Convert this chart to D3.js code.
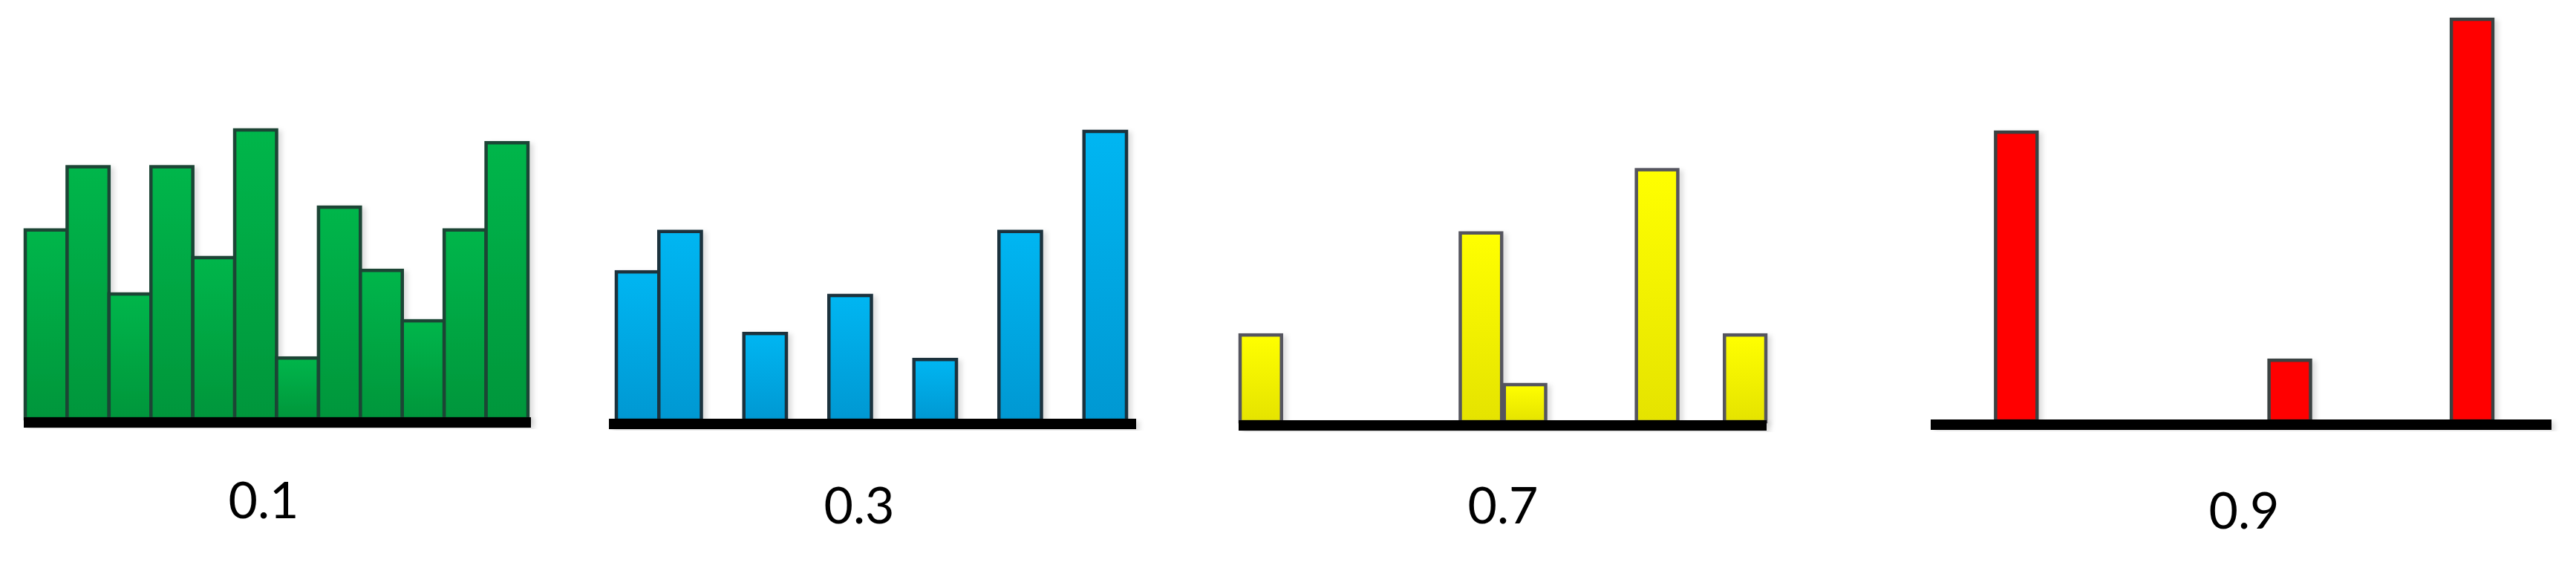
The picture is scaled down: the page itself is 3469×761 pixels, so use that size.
<!DOCTYPE html>
<html>
<head>
<meta charset="utf-8">
<script src="https://cdn.jsdelivr.net/npm/d3@7"></script>
<style>
  html, body { margin: 0; padding: 0; background: #ffffff; }
  svg { display: block; }
</style>
</head>
<body>
<div id="chart"></div>
<script>

// 12 bins per histogram, heights on a 0-100 scale
const bins = d3.range(12);
const panelLabels = ["0.1", "0.3", "0.7", "0.9"];

const greenValues  = [46.8, 62.6, 30.8, 62.6, 39.9, 71.8, 14.8, 52.5, 36.7, 24.1, 46.8, 68.6];
const blueValues   = [36.7, 46.8, 0, 21.3, 0, 30.8, 0, 14.8, 0, 46.8, 0, 71.8];
const yellowValues = [21.3, 0, 0, 0, 0, 46.8, 8.9, 0, 0, 62.6, 0, 21.3];
const redValues    = [0, 71.8, 0, 0, 0, 0, 0, 14.8, 0, 0, 0, 100];

const yMax = 100;

// layout + look of each small histogram
const panels = [
    { values: greenValues,  label: panelLabels[0], x0: 34,   x1: 711,  pad: 0,    lineX0: 32,   lineX1: 715,  base: 562,
      labelX: 355,  labelY: 698, top: "#00b64b", bottom: "#00963b", stroke: "#1b4434", id: "g" },
    { values: blueValues,   label: panelLabels[1], x0: 830,  x1: 1517, pad: 0,    lineX0: 820,  lineX1: 1530, base: 564,
      labelX: 1157, labelY: 705, top: "#00b6f2", bottom: "#0098d2", stroke: "#1a303c", id: "b" },
    { values: yellowValues, label: panelLabels[2], x0: 1670, x1: 2378, pad: 0.06, lineX0: 1668, lineX1: 2379, base: 566,
      labelX: 2024, labelY: 705, top: "#ffff00", bottom: "#e5e300", stroke: "#55555e", id: "y" },
    { values: redValues,    label: panelLabels[3], x0: 2626, x1: 3357, pad: 0.09, lineX0: 2600, lineX1: 3436, base: 565,
      labelX: 3022, labelY: 712, top: "#ff0000", bottom: "#ff0000", stroke: "#3a4242", id: "r" }
];

const width = 3469, height = 761;

const svg = d3.select("#chart").append("svg")
    .attr("width", width)
    .attr("height", height);

const defs = svg.append("defs");

// soft shadow to the right of the bars
const shadow = defs.append("filter")
    .attr("id", "shadow")
    .attr("x", "-20%").attr("y", "-5%")
    .attr("width", "150%").attr("height", "115%");
shadow.append("feDropShadow")
    .attr("dx", 5).attr("dy", 3)
    .attr("stdDeviation", 3)
    .attr("flood-color", "#000")
    .attr("flood-opacity", 0.13);

panels.forEach(p => {
    const grad = defs.append("linearGradient")
        .attr("id", "grad-" + p.id)
        .attr("x1", 0).attr("y1", 0).attr("x2", 0).attr("y2", 1);
    grad.append("stop").attr("offset", "0%").attr("stop-color", p.top);
    grad.append("stop").attr("offset", "100%").attr("stop-color", p.bottom);
});

panels.forEach(p => {
    let x = d3.scaleBand()
        .domain(bins)
        .range([p.x0, p.x1])
        .paddingInner(p.pad)
        .paddingOuter(0);

    let y = d3.scaleLinear()
        .domain([0, yMax])
        .range([p.base, p.base - 539]);

    let g = svg.append("g").attr("class", "panel");

    g.append("g")
        .attr("filter", "url(#shadow)")
        .selectAll("rect")
        .data(bins.filter(i => p.values[i] > 0))
        .join("rect")
        .attr("x", i => x(i))
        .attr("y", i => y(p.values[i]))
        .attr("width", x.bandwidth())
        .attr("height", i => y(0) - y(p.values[i]) + 2)
        .attr("fill", "url(#grad-" + p.id + ")")
        .attr("stroke", p.stroke)
        .attr("stroke-width", 4.5);

    // thick base line
    g.append("rect")
        .attr("x", p.lineX0)
        .attr("y", p.base)
        .attr("width", p.lineX1 - p.lineX0)
        .attr("height", 14)
        .attr("fill", "#000")
        .attr("filter", "url(#shadow)");

    g.append("text")
        .attr("x", p.labelX)
        .attr("y", p.labelY)
        .attr("text-anchor", "middle")
        .style("font-family", "Lato, 'Open Sans', sans-serif")
        .style("font-size", "68px")
        .attr("fill", "#000")
        .text(p.label);
});

</script>
</body>
</html>
